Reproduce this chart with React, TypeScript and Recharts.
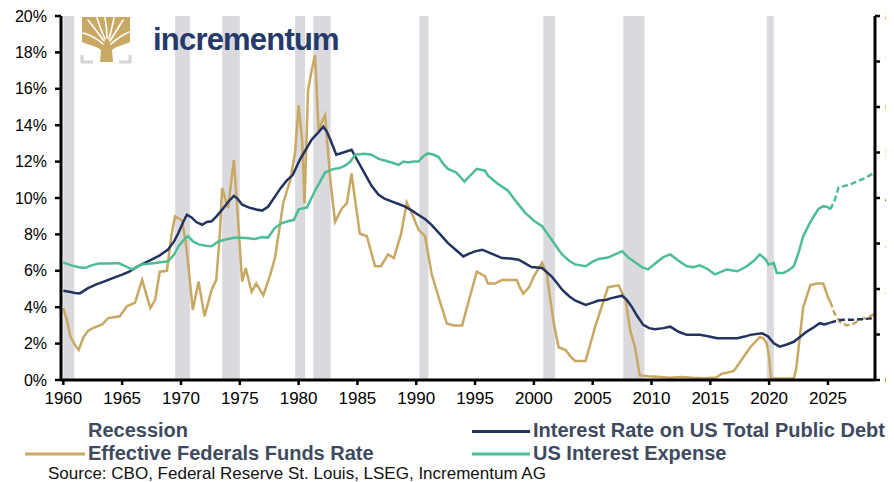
import React from 'react';
import { LineChart, Line, XAxis, YAxis, ReferenceArea } from 'recharts';

// ---------- DATA ----------
const xTicks = [1960, 1965, 1970, 1975, 1980, 1985, 1990, 1995, 2000, 2005, 2010, 2015, 2020, 2025];
const leftTicks = [0, 2, 4, 6, 8, 10, 12, 14, 16, 18, 20];
const rightTicks = [0, 1, 2, 3, 4, 5, 6, 7, 8];

const recessionStarts = [1960.0, 1969.5, 1973.5, 1979.7, 1981.25, 1990.27, 2000.8, 2007.6, 2019.8];
const recessionEnds = [1960.93, 1970.77, 1975.0, 1980.55, 1982.73, 1991.03, 2001.8, 2009.4, 2020.4];

// Effective Federal Funds Rate (%), left axis
const fedFundsActual: [number, number][] = [
  [1960.0, 3.95], [1960.3, 3.3], [1960.6, 2.4], [1961.0, 1.9], [1961.3, 1.65], [1961.7, 2.35],
  [1962.1, 2.7], [1962.5, 2.85], [1963.3, 3.05], [1963.8, 3.4], [1964.3, 3.45], [1964.8, 3.5],
  [1965.4, 4.05], [1966.1, 4.25], [1966.4, 4.9], [1966.7, 5.5], [1967.1, 4.6], [1967.4, 3.95],
  [1967.8, 4.4], [1968.2, 5.95], [1968.8, 6.0], [1969.2, 8.0], [1969.5, 9.0], [1970.1, 8.75],
  [1970.4, 7.6], [1970.6, 6.45], [1971.0, 3.85], [1971.3, 4.8], [1971.5, 5.4], [1972.0, 3.5],
  [1972.6, 4.95], [1973.0, 5.5], [1973.3, 8.0], [1973.5, 10.55], [1974.0, 9.45], [1974.5, 12.1],
  [1974.9, 8.3], [1975.2, 5.4], [1975.5, 6.15], [1976.0, 4.85], [1976.4, 5.3], [1977.0, 4.65],
  [1977.6, 5.8], [1978.0, 6.75], [1978.7, 9.75], [1979.3, 11.0], [1979.7, 12.5], [1980.0, 15.1],
  [1980.3, 13.2], [1980.5, 9.7], [1980.8, 15.9], [1981.1, 17.0], [1981.4, 17.85], [1981.7, 13.7],
  [1982.0, 14.2], [1982.25, 14.55], [1982.7, 10.95], [1983.1, 8.7], [1983.7, 9.45], [1984.1, 9.7],
  [1984.5, 11.35], [1984.8, 9.9], [1985.2, 8.05], [1985.8, 7.9], [1986.5, 6.25], [1987.0, 6.25],
  [1987.6, 6.9], [1988.1, 6.7], [1988.7, 8.0], [1989.2, 9.75], [1989.6, 9.2], [1990.2, 8.25],
  [1990.75, 7.9], [1991.3, 5.85], [1991.9, 4.55], [1992.6, 3.1], [1993.2, 3.0], [1993.9, 3.0],
  [1994.4, 4.2], [1995.15, 5.95], [1995.85, 5.7], [1996.1, 5.3], [1996.7, 5.3], [1997.3, 5.5],
  [1998.55, 5.5], [1998.8, 5.1], [1999.1, 4.75], [1999.6, 5.1], [2000.0, 5.7], [2000.7, 6.45],
  [2001.1, 5.85], [2001.4, 4.4], [2001.7, 3.1], [2002.1, 1.8], [2002.7, 1.65], [2003.1, 1.3],
  [2003.5, 1.05], [2004.4, 1.05], [2005.2, 2.9], [2005.8, 4.1], [2006.3, 5.1], [2007.2, 5.2],
  [2007.8, 4.4], [2008.2, 2.7], [2008.6, 1.8], [2009.0, 0.25], [2009.7, 0.2], [2010.5, 0.18],
  [2011.5, 0.12], [2012.5, 0.16], [2013.5, 0.12], [2014.5, 0.1], [2015.5, 0.14], [2016.0, 0.35],
  [2016.4, 0.4], [2017.0, 0.5], [2017.7, 1.15], [2018.4, 1.8], [2019.2, 2.35], [2019.5, 2.3],
  [2019.8, 2.0], [2020.0, 1.3], [2020.15, 0.1], [2020.5, 0.08], [2021.5, 0.08], [2022.1, 0.1],
  [2022.3, 0.6], [2022.6, 2.3], [2022.9, 4.0], [2023.5, 5.2], [2024.0, 5.3], [2024.6, 5.3],
  [2025.0, 4.55], [2025.2, 4.3],
];
const fedFundsProjection: [number, number][] = [
  [2025.2, 4.3], [2025.6, 3.6], [2026.0, 3.2], [2026.6, 3.0], [2027.2, 3.1], [2027.7, 3.3],
  [2028.4, 3.45], [2029.0, 3.65],
];

// Interest Rate on US Total Public Debt (%), left axis
const debtRateActual: [number, number][] = [
  [1960.0, 4.9], [1960.5, 4.85], [1961.0, 4.78], [1961.4, 4.76], [1962.1, 5.05], [1962.8, 5.25],
  [1963.5, 5.42], [1964.2, 5.6], [1965.0, 5.79], [1965.6, 5.95], [1966.1, 6.16], [1966.8, 6.4],
  [1967.5, 6.62], [1968.2, 6.85], [1968.9, 7.17], [1969.4, 7.6], [1969.8, 8.1], [1970.2, 8.7],
  [1970.5, 9.08], [1970.9, 8.93], [1971.3, 8.68], [1971.8, 8.53], [1972.2, 8.68], [1972.6, 8.72],
  [1973.0, 8.98], [1973.5, 9.36], [1974.0, 9.78], [1974.5, 10.12], [1974.8, 9.97], [1975.2, 9.63],
  [1975.8, 9.47], [1976.4, 9.37], [1976.9, 9.31], [1977.4, 9.52], [1978.0, 10.09], [1978.5, 10.57],
  [1979.0, 10.97], [1979.5, 11.26], [1980.1, 12.1], [1980.6, 12.65], [1981.1, 13.2], [1981.6, 13.55],
  [1982.1, 13.92], [1982.4, 13.65], [1982.7, 13.2], [1983.2, 12.38], [1983.8, 12.5], [1984.5, 12.65],
  [1985.0, 12.06], [1985.6, 11.37], [1986.2, 10.67], [1986.8, 10.18], [1987.3, 9.97], [1987.9, 9.81],
  [1988.5, 9.67], [1989.05, 9.53], [1989.6, 9.32], [1990.2, 9.07], [1990.8, 8.82], [1991.3, 8.52],
  [1992.0, 8.03], [1992.7, 7.52], [1993.4, 7.13], [1994.0, 6.79], [1994.5, 6.94], [1995.0, 7.07],
  [1995.6, 7.16], [1996.4, 6.94], [1997.3, 6.7], [1998.0, 6.67], [1998.7, 6.61], [1999.3, 6.39],
  [1999.8, 6.21], [2000.7, 6.15], [2001.5, 5.7], [2002.0, 5.3], [2002.4, 4.96], [2003.0, 4.6],
  [2003.5, 4.37], [2004.4, 4.13], [2005.0, 4.25], [2005.5, 4.37], [2006.1, 4.4], [2006.6, 4.5],
  [2007.5, 4.63], [2007.9, 4.4], [2008.3, 4.04], [2008.8, 3.5], [2009.3, 3.03], [2009.8, 2.85],
  [2010.3, 2.79], [2011.0, 2.85], [2011.6, 2.93], [2012.3, 2.65], [2013.0, 2.48], [2014.1, 2.48],
  [2014.8, 2.4], [2015.6, 2.29], [2016.5, 2.3], [2017.3, 2.29], [2018.0, 2.4], [2018.4, 2.48],
  [2019.4, 2.57], [2019.9, 2.4], [2020.4, 2.02], [2020.9, 1.83], [2021.5, 1.95], [2022.1, 2.1],
  [2022.7, 2.4], [2023.2, 2.66], [2023.8, 2.9], [2024.3, 3.12], [2024.7, 3.05], [2025.2, 3.15],
];
const debtRateProjection: [number, number][] = [
  [2025.2, 3.15], [2026.0, 3.3], [2027.5, 3.32], [2029.0, 3.4],
];

// US Interest Expense (% of GDP), right axis
const interestExpenseActual: [number, number][] = [
  [1960.0, 2.58], [1960.7, 2.52], [1961.3, 2.48], [1961.8, 2.46], [1962.4, 2.52], [1963.0, 2.56],
  [1963.8, 2.56], [1964.7, 2.57], [1965.3, 2.5], [1965.8, 2.43], [1966.7, 2.54], [1967.8, 2.57],
  [1968.9, 2.61], [1969.4, 2.75], [1969.8, 2.94], [1970.3, 3.1], [1970.6, 3.16], [1971.0, 3.05],
  [1971.5, 2.98], [1972.1, 2.95], [1972.6, 2.94], [1973.2, 3.05], [1974.0, 3.1], [1974.6, 3.13],
  [1975.5, 3.12], [1976.3, 3.1], [1976.9, 3.14], [1977.4, 3.13], [1978.0, 3.35], [1978.6, 3.45],
  [1979.1, 3.49], [1979.6, 3.52], [1980.0, 3.75], [1980.7, 3.79], [1981.0, 3.95], [1981.4, 4.16],
  [1981.9, 4.4], [1982.25, 4.56], [1982.6, 4.6], [1983.0, 4.64], [1983.5, 4.66], [1983.95, 4.71],
  [1984.4, 4.8], [1984.8, 4.95], [1985.6, 4.97], [1986.2, 4.95], [1986.8, 4.86], [1987.4, 4.82],
  [1987.9, 4.78], [1988.5, 4.73], [1988.9, 4.8], [1989.3, 4.78], [1989.8, 4.8], [1990.2, 4.8],
  [1990.6, 4.92], [1991.0, 4.98], [1991.5, 4.95], [1991.9, 4.9], [1992.3, 4.75], [1992.7, 4.64],
  [1993.4, 4.56], [1994.1, 4.36], [1994.6, 4.5], [1995.15, 4.64], [1995.85, 4.6], [1996.1, 4.49],
  [1996.9, 4.32], [1997.8, 4.16], [1998.5, 3.92], [1999.25, 3.68], [2000.0, 3.5], [2000.7, 3.38],
  [2001.5, 3.09], [2002.0, 2.9], [2002.4, 2.76], [2003.0, 2.62], [2003.5, 2.54], [2004.4, 2.5],
  [2005.0, 2.6], [2005.5, 2.66], [2006.3, 2.69], [2006.9, 2.76], [2007.5, 2.83], [2008.0, 2.7],
  [2008.6, 2.59], [2009.2, 2.48], [2009.7, 2.43], [2010.5, 2.6], [2011.0, 2.7], [2011.6, 2.76],
  [2012.3, 2.62], [2013.0, 2.5], [2013.6, 2.48], [2014.1, 2.52], [2014.7, 2.45], [2015.4, 2.32],
  [2016.4, 2.43], [2017.3, 2.39], [2018.1, 2.5], [2018.7, 2.62], [2019.2, 2.76], [2019.7, 2.65],
  [2019.95, 2.54], [2020.4, 2.57], [2020.65, 2.35], [2021.2, 2.35], [2021.7, 2.42], [2022.1, 2.5],
  [2022.5, 2.8], [2022.9, 3.16], [2023.4, 3.42], [2023.8, 3.6], [2024.2, 3.76], [2024.6, 3.82],
  [2025.0, 3.8], [2025.2, 3.75],
];
const interestExpenseProjection: [number, number][] = [
  [2025.2, 3.75], [2025.6, 3.97], [2025.9, 4.23], [2026.9, 4.3], [2028.0, 4.42], [2029.0, 4.56],
];

const legendLabels = {
  recession: 'Recession',
  fedFunds: 'Effective Federals Funds Rate',
  debtRate: 'Interest Rate on US Total Public Debt',
  expense: 'US Interest Expense',
};
const sourceText = 'Source: CBO, Federal Reserve St. Louis, LSEG, Incrementum AG';
const brandText = 'incrementum';

// ---------- STYLE ----------
const FONT = '"Liberation Sans", Arial, Helvetica, sans-serif';
const GOLD = '#c8a862';
const NAVY = '#22335f';
const GREEN = '#4dbd93';
const RECESSION = '#dadade';
const LEGEND_TEXT = '#3e4a60';

const toPoints = (pts: [number, number][]) => pts.map(([year, value]) => ({ year, value }));

const W = 886;
const H = 474;

const axisLine = { stroke: '#000', strokeWidth: 3 };
const tickLine = { stroke: '#000', strokeWidth: 2.5 };

export default function App() {
  return (
    <div style={{ position: 'relative', width: W, height: H, background: '#fff' }}>
      <LineChart width={W} height={H} margin={{ top: 8, right: 0, left: 0, bottom: 72 }}>
        <XAxis
          dataKey="year"
          type="number"
          domain={[1959.8, 2029]}
          allowDataOverflow
          ticks={xTicks}
          interval={0}
          tickFormatter={(v: number) => String(v)}
          axisLine={axisLine}
          tickLine={tickLine}
          tickSize={5}
          tickMargin={7}
          height={30}
          tick={{ fill: '#000', fontSize: 17, fontFamily: FONT }}
        />
        <YAxis
          yAxisId="left"
          orientation="left"
          domain={[0, 20]}
          ticks={leftTicks}
          interval={0}
          allowDataOverflow
          tickFormatter={(v: number) => `${v}%`}
          axisLine={axisLine}
          tickLine={tickLine}
          tickSize={6}
          tickMargin={8}
          width={53}
          tick={{ fill: '#000', fontSize: 16, fontFamily: FONT }}
        />
        <YAxis
          yAxisId="right"
          orientation="right"
          domain={[0, 8]}
          ticks={rightTicks}
          interval={0}
          allowDataOverflow
          tickFormatter={(v: number) => String(v)}
          axisLine={axisLine}
          tickLine={tickLine}
          tickSize={5}
          tickMargin={5}
          width={19}
          tick={{ fill: '#000', fontSize: 15, fontFamily: FONT }}
        />
        {recessionStarts.map((s, i) => (
          <ReferenceArea
            key={`rec-${i}`}
            yAxisId="left"
            x1={s}
            x2={recessionEnds[i]}
            y1={0}
            y2={20}
            fill={RECESSION}
            fillOpacity={1}
            stroke="none"
          />
        ))}
        <Line
          yAxisId="left"
          data={toPoints(fedFundsActual)}
          dataKey="value"
          type="linear"
          stroke={GOLD}
          strokeWidth={2.5}
          dot={false}
          isAnimationActive={false}
        />
        <Line
          yAxisId="left"
          data={toPoints(fedFundsProjection)}
          dataKey="value"
          type="linear"
          stroke={GOLD}
          strokeWidth={2.5}
          strokeDasharray="6 3"
          dot={false}
          isAnimationActive={false}
        />
        <Line
          yAxisId="left"
          data={toPoints(debtRateActual)}
          dataKey="value"
          type="linear"
          stroke={NAVY}
          strokeWidth={2.5}
          dot={false}
          isAnimationActive={false}
        />
        <Line
          yAxisId="left"
          data={toPoints(debtRateProjection)}
          dataKey="value"
          type="linear"
          stroke={NAVY}
          strokeWidth={2.5}
          strokeDasharray="6 3"
          dot={false}
          isAnimationActive={false}
        />
        <Line
          yAxisId="right"
          data={toPoints(interestExpenseActual)}
          dataKey="value"
          type="linear"
          stroke={GREEN}
          strokeWidth={2.5}
          dot={false}
          isAnimationActive={false}
        />
        <Line
          yAxisId="right"
          data={toPoints(interestExpenseProjection)}
          dataKey="value"
          type="linear"
          stroke={GREEN}
          strokeWidth={2.5}
          strokeDasharray="6 3"
          dot={false}
          isAnimationActive={false}
        />
      </LineChart>

      <svg
        width={W}
        height={H}
        style={{ position: 'absolute', left: 0, top: 0, pointerEvents: 'none' }}
      >
        {/* logo */}
        <g>
          <path d="M74,9 H122 V34 C116,37 108,38 104,42 L105,54 H92 L93,42 C89,38 80,37 74,34 Z" fill={GOLD} />
          <g stroke="#fff" strokeWidth={1.6} fill="none" strokeLinecap="round">
            <path d="M95,36 Q86,28 75,25" />
            <path d="M96,33 Q88,22 80,12" />
            <path d="M97,31 Q92,20 89,10" />
            <path d="M99,30 Q99,20 97,10" />
            <path d="M101,31 Q104,20 106,10" />
            <path d="M102,33 Q109,22 115,12" />
            <path d="M103,36 Q112,28 121,24" />
          </g>
          <path d="M74,47 V54 H85" stroke="#d4d4d8" strokeWidth={3} fill="none" />
          <path d="M122,47 V54 H111" stroke="#d4d4d8" strokeWidth={3} fill="none" />
          <text
            x={145}
            y={42}
            fontFamily={FONT}
            fontWeight="bold"
            fontSize={31}
            letterSpacing={-0.8}
            fill="#25396b"
          >
            {brandText}
          </text>
        </g>

        {/* legend */}
        <g fontFamily={FONT} fontWeight="bold" fontSize={20} fill={LEGEND_TEXT}>
          <text x={80} y={429}>{legendLabels.recession}</text>
          <line x1={17} x2={77} y1={446} y2={446} stroke={GOLD} strokeWidth={3} />
          <text x={80} y={452}>{legendLabels.fedFunds}</text>
          <line x1={464} x2={522} y1={423.5} y2={423.5} stroke={NAVY} strokeWidth={3} />
          <text x={525} y={429}>{legendLabels.debtRate}</text>
          <line x1={464} x2={522} y1={446} y2={446} stroke={GREEN} strokeWidth={3} />
          <text x={525} y={452}>{legendLabels.expense}</text>
        </g>
        <text x={40} y={471} fontFamily={FONT} fontSize={17} fill="#111">
          {sourceText}
        </text>
      </svg>
    </div>
  );
}
